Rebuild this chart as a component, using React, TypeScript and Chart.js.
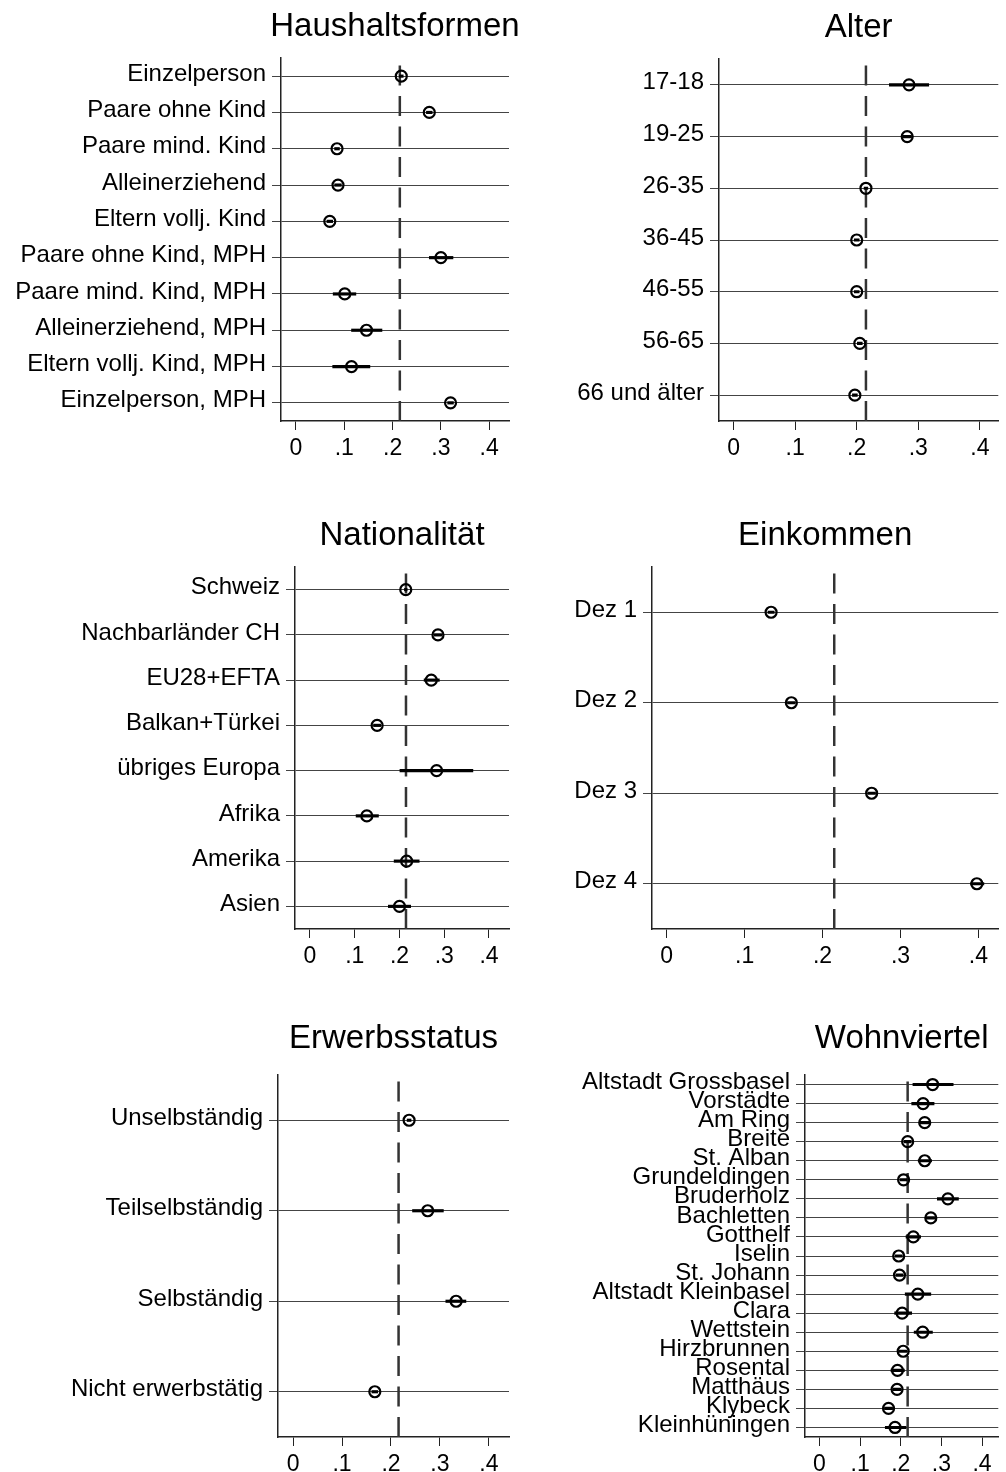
import React, { useEffect, useRef } from 'react';
import { Chart, registerables } from 'chart.js';

Chart.register(...registerables);

const FONT = '"Liberation Sans", Arial, Helvetica, sans-serif';

// ---------- shared x ticks ----------
const xTickValues = [0, 0.1, 0.2, 0.3, 0.4];
const xTickLabels = ['0', '.1', '.2', '.3', '.4'];

// ---------- Haushaltsformen ----------
const haushaltCats = [
  'Einzelperson',
  'Paare ohne Kind',
  'Paare mind. Kind',
  'Alleinerziehend',
  'Eltern vollj. Kind',
  'Paare ohne Kind, MPH',
  'Paare mind. Kind, MPH',
  'Alleinerziehend, MPH',
  'Eltern vollj. Kind, MPH',
  'Einzelperson, MPH',
];
const haushaltEst = [0.218, 0.276, 0.085, 0.087, 0.070, 0.300, 0.101, 0.146, 0.115, 0.320];
const haushaltLo = [0.214, 0.270, 0.080, 0.080, 0.064, 0.276, 0.077, 0.115, 0.076, 0.314];
const haushaltHi = [0.222, 0.282, 0.090, 0.094, 0.076, 0.325, 0.124, 0.178, 0.153, 0.326];
const haushaltRef = 0.215;

// ---------- Alter ----------
const alterCats = ['17-18', '19-25', '26-35', '36-45', '46-55', '56-65', '66 und älter'];
const alterEst = [0.285, 0.282, 0.215, 0.200, 0.200, 0.205, 0.197];
const alterLo = [0.253, 0.275, 0.212, 0.196, 0.196, 0.201, 0.193];
const alterHi = [0.317, 0.289, 0.218, 0.204, 0.204, 0.209, 0.201];
const alterRef = 0.215;

// ---------- Nationalität ----------
const natCats = [
  'Schweiz',
  'Nachbarländer CH',
  'EU28+EFTA',
  'Balkan+Türkei',
  'übriges Europa',
  'Afrika',
  'Amerika',
  'Asien',
];
const natEst = [0.214, 0.286, 0.271, 0.150, 0.283, 0.127, 0.216, 0.200];
const natLo = [0.211, 0.277, 0.255, 0.142, 0.201, 0.103, 0.188, 0.175];
const natHi = [0.217, 0.295, 0.289, 0.158, 0.364, 0.153, 0.244, 0.225];
const natRef = 0.2145;

// ---------- Einkommen ----------
const einkCats = ['Dez 1', 'Dez 2', 'Dez 3', 'Dez 4'];
const einkEst = [0.134, 0.160, 0.263, 0.398];
const einkLo = [0.130, 0.155, 0.258, 0.390];
const einkHi = [0.138, 0.165, 0.268, 0.407];
const einkRef = 0.215;

// ---------- Erwerbsstatus ----------
const erwCats = ['Unselbständig', 'Teilselbständig', 'Selbständig', 'Nicht erwerbstätig'];
const erwEst = [0.237, 0.275, 0.333, 0.167];
const erwLo = [0.233, 0.244, 0.312, 0.161];
const erwHi = [0.241, 0.307, 0.353, 0.173];
const erwRef = 0.2155;

// ---------- Wohnviertel ----------
const wohnCats = [
  'Altstadt Grossbasel',
  'Vorstädte',
  'Am Ring',
  'Breite',
  'St. Alban',
  'Grundeldingen',
  'Bruderholz',
  'Bachletten',
  'Gotthelf',
  'Iselin',
  'St. Johann',
  'Altstadt Kleinbasel',
  'Clara',
  'Wettstein',
  'Hirzbrunnen',
  'Rosental',
  'Matthäus',
  'Klybeck',
  'Kleinhüningen',
];
const wohnEst = [0.2785, 0.255, 0.259, 0.217, 0.259, 0.207, 0.316, 0.274, 0.231, 0.195, 0.197, 0.242, 0.2035, 0.254, 0.206, 0.192, 0.191, 0.170, 0.186];
const wohnLo = [0.230, 0.227, 0.247, 0.208, 0.243, 0.198, 0.290, 0.262, 0.213, 0.186, 0.188, 0.211, 0.185, 0.233, 0.196, 0.176, 0.181, 0.160, 0.162];
const wohnHi = [0.329, 0.282, 0.271, 0.226, 0.276, 0.216, 0.342, 0.286, 0.249, 0.204, 0.206, 0.274, 0.227, 0.278, 0.216, 0.209, 0.201, 0.180, 0.213];
const wohnRef = 0.217;

type PanelSpec = {
  title: string;
  cats: string[];
  est: number[];
  lo: number[];
  hi: number[];
  refVal: number;
  xMin: number;
  xMax: number;
  left: number;
  top: number;
  width: number;
  height: number;
  yWidth: number;
  xHeight: number;
  padTop: number;
  padRight: number;
  titleY: number;
};

const panels: PanelSpec[] = [
  {
    title: 'Haushaltsformen', cats: haushaltCats, est: haushaltEst, lo: haushaltLo, hi: haushaltHi, refVal: haushaltRef,
    xMin: -0.031, xMax: 0.441,
    left: 0, top: 0, width: 520, height: 490, yWidth: 281, xHeight: 69, padTop: 58, padRight: 11, titleY: 36,
  },
  {
    title: 'Alter', cats: alterCats, est: alterEst, lo: alterLo, hi: alterHi, refVal: alterRef,
    xMin: -0.0237, xMax: 0.43,
    left: 520, top: 0, width: 486, height: 490, yWidth: 199, xHeight: 69, padTop: 59, padRight: 0, titleY: 37,
  },
  {
    title: 'Nationalität', cats: natCats, est: natEst, lo: natLo, hi: natHi, refVal: natRef,
    xMin: -0.0335, xMax: 0.4447,
    left: 0, top: 490, width: 520, height: 490, yWidth: 295, xHeight: 51, padTop: 77, padRight: 11, titleY: 55,
  },
  {
    title: 'Einkommen', cats: einkCats, est: einkEst, lo: einkLo, hi: einkHi, refVal: einkRef,
    xMin: -0.0188, xMax: 0.4255,
    left: 520, top: 490, width: 486, height: 490, yWidth: 132, xHeight: 51, padTop: 77, padRight: 0, titleY: 55,
  },
  {
    title: 'Erwerbsstatus', cats: erwCats, est: erwEst, lo: erwLo, hi: erwHi, refVal: erwRef,
    xMin: -0.0307, xMax: 0.441,
    left: 0, top: 980, width: 520, height: 492, yWidth: 278, xHeight: 35, padTop: 95, padRight: 11, titleY: 68,
  },
  {
    title: 'Wohnviertel', cats: wohnCats, est: wohnEst, lo: wohnLo, hi: wohnHi, refVal: wohnRef,
    xMin: -0.0355, xMax: 0.44,
    left: 520, top: 980, width: 486, height: 492, yWidth: 285, xHeight: 35, padTop: 95, padRight: 0, titleY: 68,
  },
];

function makeTitlePlugin(title: string, y: number) {
  return {
    id: 'panelTitle',
    afterDraw(chart: any) {
      const ctx = chart.ctx;
      const ca = chart.chartArea;
      ctx.save();
      ctx.font = `33px ${FONT}`;
      ctx.fillStyle = '#000';
      ctx.textAlign = 'center';
      ctx.textBaseline = 'alphabetic';
      ctx.fillText(title, (ca.left + ca.right) / 2, y);
      ctx.restore();
    },
  };
}

function Panel({ spec }: { spec: PanelSpec }) {
  const ref = useRef<HTMLCanvasElement | null>(null);

  useEffect(() => {
    if (!ref.current) return;
    const s = spec;
    const chart = new Chart(ref.current, {
      type: 'scatter',
      data: {
        labels: s.cats,
        datasets: [
          {
            type: 'bar',
            indexAxis: 'y',
            data: s.cats.map((_, i) => [s.lo[i], s.hi[i]]),
            backgroundColor: '#000',
            borderWidth: 0,
            barThickness: 2.5,
            xAxisID: 'x',
            yAxisID: 'y',
            order: 1,
          } as any,
          {
            type: 'scatter',
            data: s.cats.map((c, i) => ({ x: s.est[i], y: c })),
            pointRadius: 5.5,
            pointBorderWidth: 2.2,
            pointStyle: 'circle',
            borderColor: '#000',
            backgroundColor: 'rgba(0,0,0,0)',
            pointBackgroundColor: 'rgba(0,0,0,0)',
            pointBorderColor: '#000',
            xAxisID: 'x',
            yAxisID: 'y',
            order: 0,
          } as any,
          {
            type: 'line',
            data: [
              { x: s.refVal, y: 0 },
              { x: s.refVal, y: 1 },
            ],
            xAxisID: 'x',
            yAxisID: 'y2',
            borderColor: '#333',
            borderWidth: 2.5,
            borderDash: [20, 10.5],
            pointRadius: 0,
            fill: false,
            order: 2,
          } as any,
        ],
      },
      options: {
        animation: false,
        responsive: false,
        devicePixelRatio: 1,
        events: [],
        layout: { padding: { top: s.padTop, right: s.padRight, left: 0, bottom: 0 } },
        plugins: {
          legend: { display: false },
          tooltip: { enabled: false },
          title: { display: false },
        },
        scales: {
          x: {
            type: 'linear',
            position: 'bottom',
            min: s.xMin,
            max: s.xMax,
            afterBuildTicks: (scale: any) => {
              scale.ticks = xTickValues.map((v) => ({ value: v }));
            },
            afterFit: (scale: any) => {
              scale.height = s.xHeight;
            },
            ticks: {
              callback: (_v: any, i: number) => xTickLabels[i],
              autoSkip: false,
              maxRotation: 0,
              minRotation: 0,
              font: { family: FONT, size: 23 },
              color: '#000',
              padding: 5,
            },
            grid: {
              drawOnChartArea: false,
              drawTicks: true,
              tickLength: 9,
              color: '#222',
              lineWidth: 1,
            },
            border: { display: true, color: '#222', width: 1.5 },
          },
          y: {
            type: 'category',
            position: 'left',
            offset: true,
            afterFit: (scale: any) => {
              scale.width = s.yWidth;
            },
            ticks: {
              autoSkip: false,
              font: { family: FONT, size: 24 },
              color: '#000',
              padding: 6,
              labelOffset: -2,
            },
            grid: {
              offset: false,
              color: '#444',
              lineWidth: 1,
              drawTicks: true,
              tickLength: 9,
            },
            border: { display: true, color: '#222', width: 1.5 },
          },
          y2: {
            type: 'linear',
            display: false,
            min: 0,
            max: 1,
          },
        },
      } as any,
      plugins: [makeTitlePlugin(s.title, s.titleY)],
    });
    return () => chart.destroy();
  }, [spec]);

  return (
    <canvas
      ref={ref}
      width={spec.width}
      height={spec.height}
      style={{
        position: 'absolute',
        left: spec.left,
        top: spec.top,
        width: spec.width,
        height: spec.height,
        display: 'block',
      }}
    />
  );
}

export default function App() {
  return (
    <div
      style={{
        position: 'absolute',
        left: 0,
        top: 0,
        width: 1006,
        height: 1472,
        overflow: 'hidden',
        background: '#fff',
      }}
    >
      {panels.map((p) => (
        <Panel key={p.title} spec={p} />
      ))}
    </div>
  );
}
